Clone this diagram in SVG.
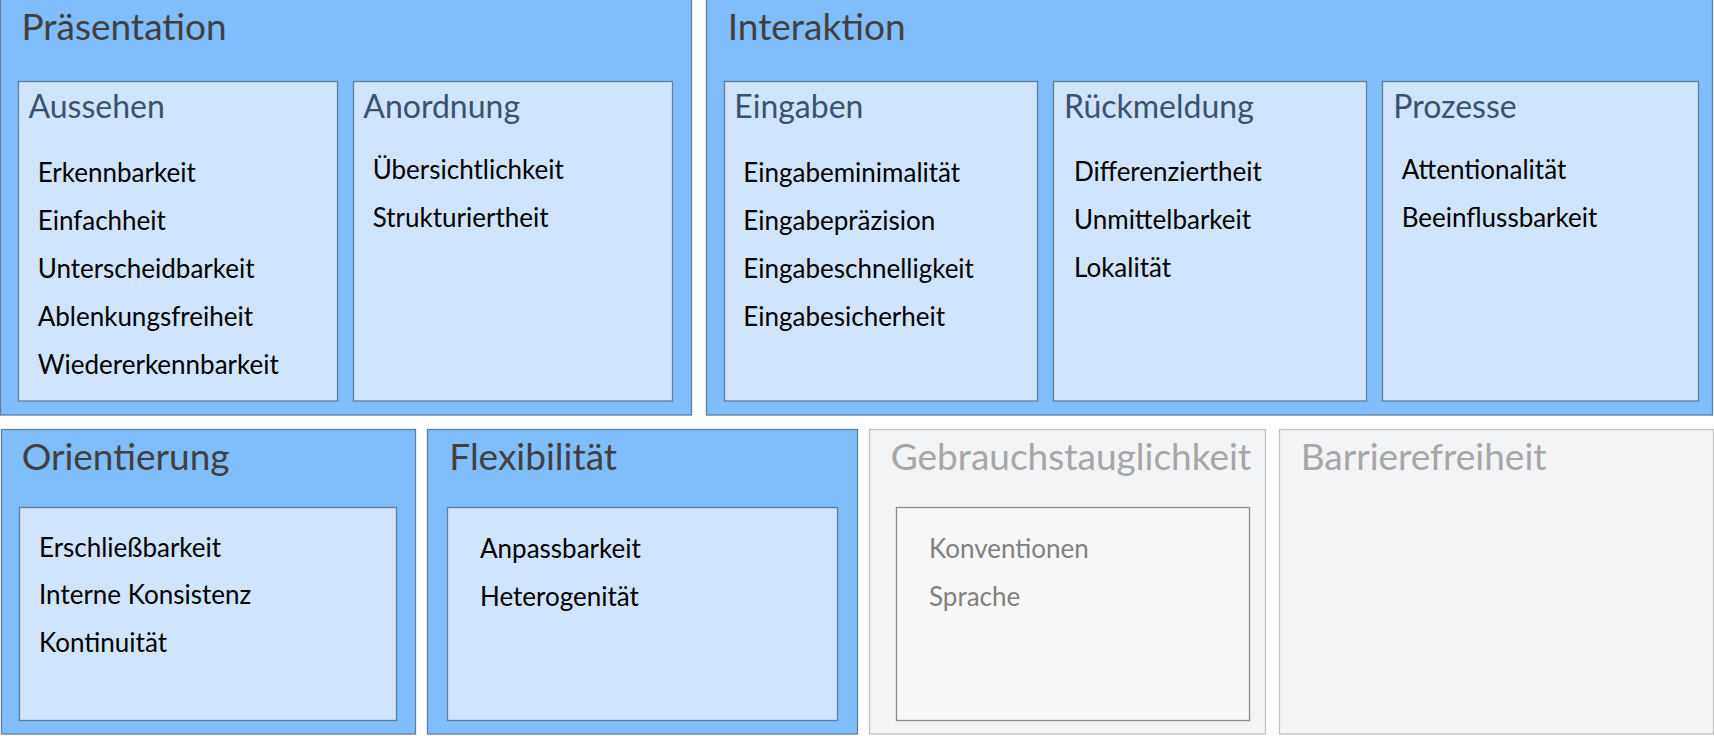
<svg xmlns="http://www.w3.org/2000/svg" width="1714" height="736" viewBox="0 0 1714 736">
<style>
.outer{fill:#80bdfb;stroke:#5f7d9c;stroke-width:1.3}
.inner{fill:#d0e4fd;stroke:#5f7d9c;stroke-width:1.3}
.gouter{fill:#f3f4f6;stroke:#c2c2c2;stroke-width:1.3}
.ginner{fill:#f8f8f8;stroke:#8c8c8c;stroke-width:1.3}
text{font-family:Lato,"Open Sans",sans-serif}
.t{font-size:37px;fill:#404040}
.gt{font-size:37px;fill:#a6a6a6}
.s{font-size:32px;fill:#3a5170}
.i{font-size:26px;fill:#000}
.gi{font-size:26px;fill:#808080}
</style>
<rect x="0" y="0" width="1714" height="736" fill="#ffffff"/>
<g id="praesentation">
<rect class="outer" x="0.5" y="-2" width="691" height="417"/>
<text class="t" x="21.5" y="40">Präsentation</text>
</g>
<g id="aussehen">
<rect class="inner" x="18.5" y="81.5" width="319" height="319.5"/>
<text class="s" x="28.5" y="118.3">Aussehen</text>
<text class="i" x="37.7" y="181.7">Erkennbarkeit</text>
<text class="i" x="37.7" y="229.8">Einfachheit</text>
<text class="i" x="37.7" y="277.9">Unterscheidbarkeit</text>
<text class="i" x="37.7" y="326">Ablenkungsfreiheit</text>
<text class="i" x="37.7" y="374">Wiedererkennbarkeit</text>
</g>
<g id="anordnung">
<rect class="inner" x="353.5" y="81.5" width="319" height="319.5"/>
<text class="s" x="363.3" y="118.3">Anordnung</text>
<text class="i" x="372.7" y="179">Übersichtlichkeit</text>
<text class="i" x="372.7" y="226.7">Strukturiertheit</text>
</g>
<g id="interaktion">
<rect class="outer" x="706.5" y="-2" width="1006" height="417"/>
<text class="t" x="727.7" y="40">Interaktion</text>
</g>
<g id="eingaben">
<rect class="inner" x="724.5" y="81.5" width="313" height="319.5"/>
<text class="s" x="734.3" y="118.3">Eingaben</text>
<text class="i" x="743.3" y="181.7">Eingabeminimalität</text>
<text class="i" x="743.3" y="229.8">Eingabepräzision</text>
<text class="i" x="743.3" y="277.9">Eingabeschnelligkeit</text>
<text class="i" x="743.3" y="326">Eingabesicherheit</text>
</g>
<g id="rueckmeldung">
<rect class="inner" x="1053.5" y="81.5" width="313" height="319.5"/>
<text class="s" x="1064" y="118.3">Rückmeldung</text>
<text class="i" x="1074" y="180.5">Differenziertheit</text>
<text class="i" x="1074" y="228.5">Unmittelbarkeit</text>
<text class="i" x="1074" y="276.5">Lokalität</text>
</g>
<g id="prozesse">
<rect class="inner" x="1382.5" y="81.5" width="316" height="319.5"/>
<text class="s" x="1393.3" y="118.3">Prozesse</text>
<text class="i" x="1401.7" y="179">Attentionalität</text>
<text class="i" x="1401.7" y="226.7">Beeinflussbarkeit</text>
</g>
<g id="orientierung">
<rect class="outer" x="1.5" y="429.5" width="414" height="304.5"/>
<text class="t" x="21.7" y="470">Orientierung</text>
<rect class="inner" x="19.5" y="507.5" width="377" height="213"/>
<text class="i" x="39" y="556.7">Erschließbarkeit</text>
<text class="i" x="39" y="604.3">Interne Konsistenz</text>
<text class="i" x="39" y="652.3">Kontinuität</text>
</g>
<g id="flexibilitaet">
<rect class="outer" x="427.5" y="429.5" width="430" height="304.5"/>
<text class="t" x="449.3" y="470">Flexibilität</text>
<rect class="inner" x="447.5" y="507.5" width="390" height="213"/>
<text class="i" x="480" y="558.3">Anpassbarkeit</text>
<text class="i" x="480" y="606">Heterogenität</text>
</g>
<g id="gebrauchstauglichkeit">
<rect class="gouter" x="869.5" y="429.5" width="396" height="304.5"/>
<text class="gt" x="890.7" y="470">Gebrauchstauglichkeit</text>
<rect class="ginner" x="896.5" y="507.5" width="353" height="213"/>
<text class="gi" x="929" y="558.3">Konventionen</text>
<text class="gi" x="929" y="606">Sprache</text>
</g>
<g id="barrierefreiheit">
<rect class="gouter" x="1279.5" y="429.5" width="434" height="304.5"/>
<text class="gt" x="1300.7" y="470">Barrierefreiheit</text>
</g>
<g id="connectors"/>
</svg>
